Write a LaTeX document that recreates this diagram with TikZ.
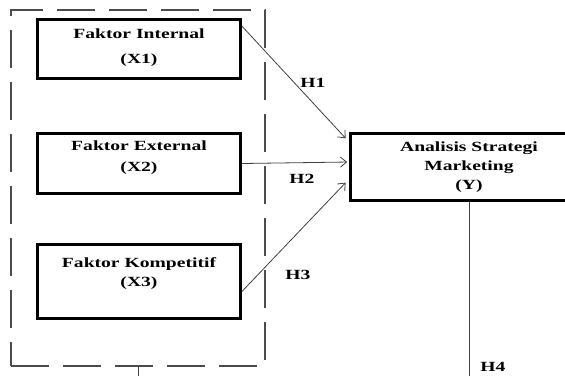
\documentclass[tikz,border=0pt]{standalone}
\usepackage{fontspec}
\setmainfont{Liberation Serif}[FakeStretch=1.4]
\usepackage{tikz}
\usetikzlibrary{arrows.meta}

\begin{document}
\begin{tikzpicture}[x=1pt, y=-1pt, every node/.style={font=\bfseries\fontsize{14}{19}\selectfont},
  factor/.style={draw, line width=2.8pt, align=center, inner sep=0pt},
  group/.style={draw=black!70, line width=1.1pt, dash pattern=on 38pt off 14pt, inner sep=0pt},
  hyp/.style={draw=black!75, line width=0.8pt, -{Straight Barb[length=6pt, width=10pt]}}]
  \path[use as bounding box, clip] (0,0) rectangle (565,376);
  % dashed group round the three factors
  \node[group, minimum width=254pt, minimum height=356pt] (grp) at (138,188) {};
  % factor boxes
  \node[factor, minimum width=203pt, minimum height=59pt, text depth=6pt] (x1) at (139,49) {Faktor Internal\\[6pt](X1)};
  \node[factor, minimum width=203pt, minimum height=60pt, text depth=14pt] (x2) at (139,163.5) {Faktor External\\[2pt](X2)};
  \node[factor, minimum width=203pt, minimum height=74pt, text depth=18pt] (x3) at (139,281.5) {Faktor Kompetitif\\(X3)};
  \node[factor, minimum width=237pt, minimum height=67.5pt] (y) at (469,167) {Analisis Strategi\\Marketing\\(Y)};
  % hypotheses
  \draw[hyp, shorten >=5pt] ([yshift=-8pt]x1.north east) -- ([yshift=25pt]y.west);
  \draw[hyp, shorten >=2pt] (x2.east) -- ([yshift=5pt]y.west);
  \draw[hyp, shorten >=5pt] ([yshift=-10pt]x2.east |- x3.east) -- ([yshift=-12pt]y.west);
  \node (h1) at (313,83) {H1};
  \node (h2) at (302,179) {H2};
  \node (h3) at (298,275) {H3};
  \node (h4) at (493,367) {H4};
  % lines leaving the picture
  \coordinate (ybot) at (469,376);
  \coordinate (gbot) at (138,376);
  \draw[black!75, line width=0.8pt] (y.south) -- (ybot);
  \draw[black!75, line width=0.8pt] (grp.south) -- (gbot);
\end{tikzpicture}
\end{document}
